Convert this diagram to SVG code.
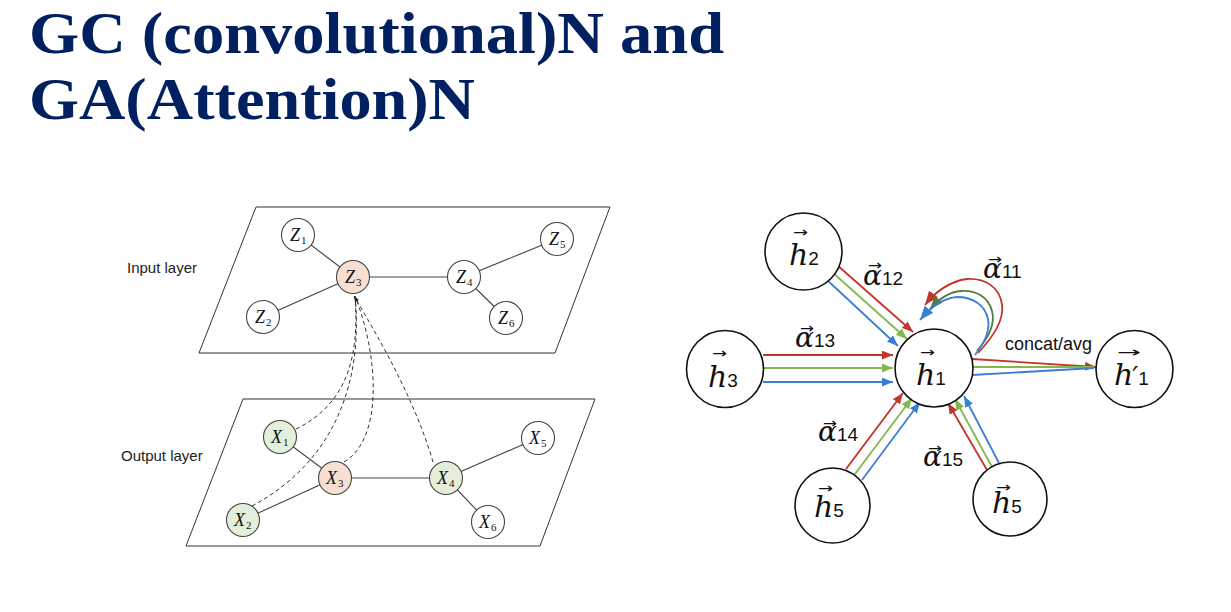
<svg xmlns="http://www.w3.org/2000/svg" width="1231" height="612" viewBox="0 0 1231 612">
<style>
.ttl{font-family:"Liberation Serif",serif;font-weight:bold;font-size:60px;fill:#002060}
.lbl{font-family:"Liberation Sans","Open Sans",sans-serif;font-size:15px;fill:#222}
.zv{font-family:"Liberation Serif",serif;font-style:italic;font-size:18px;fill:#111}
.zs{font-family:"Liberation Serif",serif;font-size:11px;fill:#111}
.plane{fill:none;stroke:#333;stroke-width:1}
.edge{stroke:#444;stroke-width:1.1;fill:none}
.nd{stroke:#444;stroke-width:1.1;fill:#fff}
.pe{fill:#f7e0d2}
.gr{fill:#e3efda}
.dash{fill:none;stroke:#333;stroke-width:1;stroke-dasharray:4 3}
.big{fill:#fff;stroke:#111;stroke-width:1.6}
.hv{font-family:"DejaVu Serif","Liberation Serif",serif;font-style:italic;font-size:30px;fill:#111}
.av{font-family:"DejaVu Serif","Liberation Serif",serif;font-style:italic;font-size:28px;fill:#111}
.hs{font-family:"Liberation Sans",sans-serif;font-size:19px;fill:#111;font-style:normal}
.ar{font-family:"DejaVu Sans",sans-serif;font-size:14px;fill:#111;font-style:normal}
.ca{font-family:"Liberation Sans",sans-serif;font-size:18px;fill:#111}
.r{stroke:#c3352b;stroke-width:1.8;fill:none}
.g{stroke:#83b84f;stroke-width:1.8;fill:none}
.gd{stroke:#4e7d3f;stroke-width:1.8;fill:none}
.b{stroke:#3a7fd2;stroke-width:1.8;fill:none}
</style>
<defs>
<marker id="mk" viewBox="0 0 8 6" refX="8" refY="3" markerWidth="6" markerHeight="5" markerUnits="userSpaceOnUse" orient="auto"><path d="M0,0 L8,3 L0,6 z" fill="#222"/></marker>
<marker id="mr" viewBox="0 0 10 8" refX="10" refY="4" markerWidth="11" markerHeight="9" markerUnits="userSpaceOnUse" orient="auto"><path d="M0,0 L10,4 L0,8 z" fill="#c3352b"/></marker>
<marker id="mg" viewBox="0 0 10 8" refX="10" refY="4" markerWidth="11" markerHeight="9" markerUnits="userSpaceOnUse" orient="auto"><path d="M0,0 L10,4 L0,8 z" fill="#83b84f"/></marker>
<marker id="mgd" viewBox="0 0 10 8" refX="10" refY="4" markerWidth="13" markerHeight="11" markerUnits="userSpaceOnUse" orient="auto"><path d="M0,0 L10,4 L0,8 z" fill="#4e7d3f"/></marker>
<marker id="mb" viewBox="0 0 10 8" refX="10" refY="4" markerWidth="11" markerHeight="9" markerUnits="userSpaceOnUse" orient="auto"><path d="M0,0 L10,4 L0,8 z" fill="#3a7fd2"/></marker>
<marker id="mrL" viewBox="0 0 10 8" refX="10" refY="4" markerWidth="14" markerHeight="12" markerUnits="userSpaceOnUse" orient="auto"><path d="M0,0 L10,4 L0,8 z" fill="#c3352b"/></marker>
<marker id="mbL" viewBox="0 0 10 8" refX="10" refY="4" markerWidth="14" markerHeight="12" markerUnits="userSpaceOnUse" orient="auto"><path d="M0,0 L10,4 L0,8 z" fill="#3a7fd2"/></marker>
</defs>
<rect width="1231" height="612" fill="#fff"/>

<g id="title">
<text class="ttl" x="29" y="53" textLength="695" lengthAdjust="spacingAndGlyphs">GC (convolutional)N and</text>
<text class="ttl" x="29" y="119" textLength="446" lengthAdjust="spacingAndGlyphs">GA(Attention)N</text>
</g>

<g id="input-layer">
<polygon class="plane" points="256,207 610,207 555,353 199,353"/>
<text class="lbl" x="127" y="273">Input layer</text>
</g>
<g id="output-layer">
<polygon class="plane" points="243,399 595,399 540,546 186,546"/>
<text class="lbl" x="121" y="461">Output layer</text>
</g>

<g id="connectors">
<g id="layer-edges">
<line class="edge" x1="298" y1="235" x2="353" y2="277"/>
<line class="edge" x1="263" y1="317" x2="353" y2="277"/>
<line class="edge" x1="353" y1="277" x2="464" y2="277"/>
<line class="edge" x1="464" y1="277" x2="557" y2="239"/>
<line class="edge" x1="464" y1="277" x2="506" y2="318"/>
<line class="edge" x1="280" y1="437" x2="335" y2="478"/>
<line class="edge" x1="243" y1="520" x2="335" y2="478"/>
<line class="edge" x1="335" y1="478" x2="446" y2="478"/>
<line class="edge" x1="446" y1="478" x2="538" y2="438"/>
<line class="edge" x1="446" y1="478" x2="488" y2="522"/>
</g>
<g id="dashed">
<path class="dash" d="M296,429 C345,405 360,360 355,296"/>
<path class="dash" d="M252,506 C320,470 365,400 355,296"/>
<path class="dash" d="M344,462 C382,440 380,360 355,296"/>
<path class="dash" d="M433,462 C415,400 380,340 354,296" marker-end="url(#mk)"/>
</g>
<g id="attn-arrows">
<line class="r" x1="837" y1="265" x2="913" y2="332" marker-end="url(#mr)"/>
<line class="g" x1="832" y1="272" x2="907" y2="339" marker-end="url(#mg)"/>
<line class="b" x1="826" y1="279" x2="898" y2="346" marker-end="url(#mb)"/>
<line class="r" x1="763" y1="355" x2="893" y2="355" marker-end="url(#mr)"/>
<line class="g" x1="763" y1="368" x2="893" y2="368" marker-end="url(#mg)"/>
<line class="b" x1="763" y1="382" x2="893" y2="382" marker-end="url(#mb)"/>
<line class="r" x1="846" y1="469" x2="903" y2="393" marker-end="url(#mr)"/>
<line class="g" x1="855" y1="474" x2="912" y2="398" marker-end="url(#mg)"/>
<line class="b" x1="862" y1="480" x2="920" y2="402" marker-end="url(#mb)"/>
<line class="r" x1="987" y1="470" x2="948" y2="403" marker-end="url(#mr)"/>
<line class="g" x1="992" y1="467" x2="955" y2="399" marker-end="url(#mg)"/>
<line class="b" x1="999" y1="463" x2="964" y2="396" marker-end="url(#mb)"/>
<path class="r" d="M978,353 C995,335 1004,318 1002,305 C1000,287 985,278 967,279 C950,281 935,292 925,305" marker-end="url(#mrL)"/>
<path class="gd" d="M977,351 C990,336 995,322 992,311 C988,296 975,290 961,291 C948,292 938,300 930,309" marker-end="url(#mgd)"/>
<path class="b" d="M975,355 C986,341 990,329 988,319 C985,305 973,297 957,297 C942,298 930,308 920,320" marker-end="url(#mbL)"/>
<line class="r" x1="972" y1="359" x2="1096" y2="367" marker-end="url(#mr)"/>
<line class="g" x1="972" y1="367" x2="1094" y2="367"/>
<line class="b" x1="972" y1="375" x2="1094" y2="368"/>
</g>
</g>

<g id="Z1"><circle class="nd" cx="298" cy="235" r="16.5"/><text class="zv" x="290" y="241">Z</text><text class="zs" x="301" y="244">1</text></g>
<g id="Z2"><circle class="nd" cx="263" cy="317" r="16.5"/><text class="zv" x="255" y="323">Z</text><text class="zs" x="266" y="326">2</text></g>
<g id="Z3"><circle class="nd pe" cx="353" cy="277" r="16.5"/><text class="zv" x="345" y="283">Z</text><text class="zs" x="356" y="286">3</text></g>
<g id="Z4"><circle class="nd" cx="464" cy="277" r="16.5"/><text class="zv" x="456" y="283">Z</text><text class="zs" x="467" y="286">4</text></g>
<g id="Z5"><circle class="nd" cx="557" cy="239" r="16.5"/><text class="zv" x="549" y="245">Z</text><text class="zs" x="560" y="248">5</text></g>
<g id="Z6"><circle class="nd" cx="506" cy="318" r="16.5"/><text class="zv" x="498" y="324">Z</text><text class="zs" x="509" y="327">6</text></g>

<g id="X1"><circle class="nd gr" cx="280" cy="437" r="16.5"/><text class="zv" x="271" y="443">X</text><text class="zs" x="283" y="446">1</text></g>
<g id="X2"><circle class="nd gr" cx="243" cy="520" r="16.5"/><text class="zv" x="234" y="526">X</text><text class="zs" x="246" y="529">2</text></g>
<g id="X3"><circle class="nd pe" cx="335" cy="478" r="16.5"/><text class="zv" x="326" y="484">X</text><text class="zs" x="338" y="487">3</text></g>
<g id="X4"><circle class="nd gr" cx="446" cy="478" r="16.5"/><text class="zv" x="437" y="484">X</text><text class="zs" x="449" y="487">4</text></g>
<g id="X5"><circle class="nd" cx="538" cy="438" r="16.5"/><text class="zv" x="529" y="444">X</text><text class="zs" x="541" y="447">5</text></g>
<g id="X6"><circle class="nd" cx="488" cy="522" r="16.5"/><text class="zv" x="479" y="528">X</text><text class="zs" x="491" y="531">6</text></g>

<g id="h2"><circle class="big" cx="803.5" cy="251.5" r="38.5"/><text><tspan class="ar" x="793" y="236.5" textLength="15" lengthAdjust="spacingAndGlyphs">→</tspan><tspan class="hv" x="789" y="265">h</tspan><tspan class="hs">2</tspan></text></g>
<g id="h3"><circle class="big" cx="725" cy="369" r="38.5"/><text><tspan class="ar" x="712" y="357.5" textLength="15" lengthAdjust="spacingAndGlyphs">→</tspan><tspan class="hv" x="708" y="387">h</tspan><tspan class="hs">3</tspan></text></g>
<g id="h1"><circle class="big" cx="934" cy="368" r="39"/><text><tspan class="ar" x="920" y="356.5" textLength="15" lengthAdjust="spacingAndGlyphs">→</tspan><tspan class="hv" x="916" y="385">h</tspan><tspan class="hs">1</tspan></text></g>
<g id="h1p"><circle class="big" cx="1134.5" cy="369" r="38.5"/><text><tspan class="ar" x="1117" y="356.5" textLength="24" lengthAdjust="spacingAndGlyphs">→</tspan><tspan class="hv" x="1114" y="385">h</tspan><tspan class="hv" style="font-size:26px" dx="-1">′</tspan><tspan class="hs">1</tspan></text></g>
<g id="h5a"><circle class="big" cx="832.5" cy="505.5" r="37.5"/><text><tspan class="ar" x="818" y="492.5" textLength="15" lengthAdjust="spacingAndGlyphs">→</tspan><tspan class="hv" x="814" y="517">h</tspan><tspan class="hs">5</tspan></text></g>
<g id="h5b"><circle class="big" cx="1010" cy="499" r="37"/><text><tspan class="ar" x="996" y="491.5" textLength="15" lengthAdjust="spacingAndGlyphs">→</tspan><tspan class="hv" x="992" y="513">h</tspan><tspan class="hs">5</tspan></text></g>

<g id="labels">
<text><tspan class="ar" x="868" y="269.5" textLength="14" lengthAdjust="spacingAndGlyphs">→</tspan><tspan class="av" x="863" y="285">α</tspan><tspan class="hs">12</tspan></text>
<text><tspan class="ar" x="988" y="263.5" textLength="14" lengthAdjust="spacingAndGlyphs">→</tspan><tspan class="av" x="983" y="278">α</tspan><tspan class="hs">11</tspan></text>
<text><tspan class="ar" x="800" y="332.5" textLength="14" lengthAdjust="spacingAndGlyphs">→</tspan><tspan class="av" x="795" y="347">α</tspan><tspan class="hs">13</tspan></text>
<text><tspan class="ar" x="823" y="427.5" textLength="14" lengthAdjust="spacingAndGlyphs">→</tspan><tspan class="av" x="818" y="441">α</tspan><tspan class="hs">14</tspan></text>
<text><tspan class="ar" x="928" y="452.5" textLength="14" lengthAdjust="spacingAndGlyphs">→</tspan><tspan class="av" x="923" y="466">α</tspan><tspan class="hs">15</tspan></text>
<text class="ca" x="1005" y="350">concat/avg</text>
</g>
</svg>
